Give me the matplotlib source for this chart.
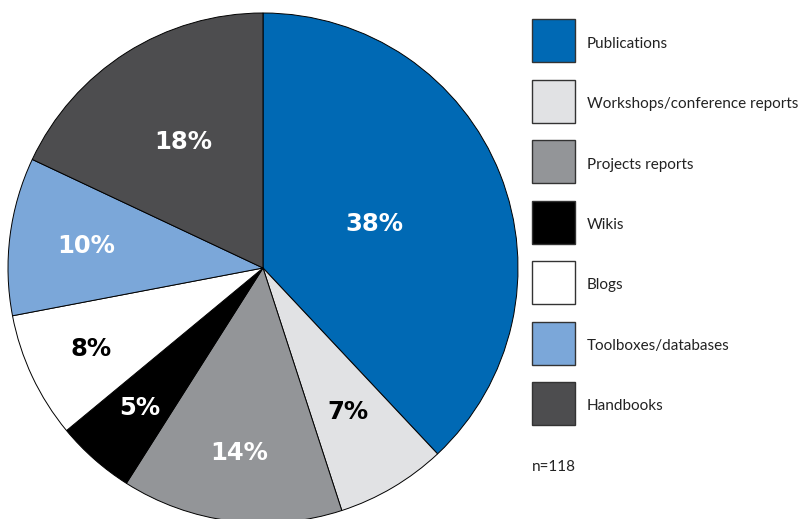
import numpy as np
import matplotlib.pyplot as plt
from matplotlib.patches import Rectangle

# data
categories = ['Publications', 'Workshops/conference reports', 'Projects reports',
              'Wikis', 'Blogs', 'Toolboxes/databases', 'Handbooks']
shares = [38, 7, 14, 5, 8, 10, 18]
colors = ['#0069b4', '#e1e2e4', '#939598', '#000000', '#ffffff', '#7ba7d9', '#4d4d4f']
label_colors = ['white', 'black', 'white', 'white', 'black', 'white', 'white']
n_total = 118

W, H = 800, 519
fig = plt.figure(figsize=(W / 100, H / 100), dpi=100)
ax = fig.add_axes([0, 0, 1, 1])

cx, cy, r = 263, H - 268, 255
wedges, _ = ax.pie(shares, colors=colors, startangle=90, counterclock=False,
                   center=(cx, cy), radius=r,
                   wedgeprops=dict(edgecolor='black', linewidth=0.7))

# label radius (fraction of r) per slice, to match the original placement
label_r = [0.47, 0.655, 0.73, 0.73, 0.745, 0.70, 0.585]
for w, s, lc, lr in zip(wedges, shares, label_colors, label_r):
    ang = np.deg2rad((w.theta1 + w.theta2) / 2)
    ax.text(cx + lr * r * np.cos(ang), cy + lr * r * np.sin(ang), f'{s}%',
            ha='center', va='center', color=lc, fontsize=17.5,
            fontweight='bold', family='DejaVu Sans')

# legend boxes
box = 43
for i, (cat, col) in enumerate(zip(categories, colors)):
    top = 19 + i * 60.5
    ax.add_patch(Rectangle((532, H - top - box), box, box, facecolor=col,
                           edgecolor='#333333', linewidth=1.0))
    ax.text(587, H - top - box / 2 - 3, cat, ha='left', va='center',
            fontsize=11, color='#222222', family='Lato')

ax.text(532, H - 467, f'n={n_total}', ha='left', va='center',
        fontsize=11, color='#222222', family='Lato')

ax.set_xlim(0, W)
ax.set_ylim(0, H)
ax.set_aspect('equal')
ax.axis('off')

fig.savefig('out.png', dpi=100)
